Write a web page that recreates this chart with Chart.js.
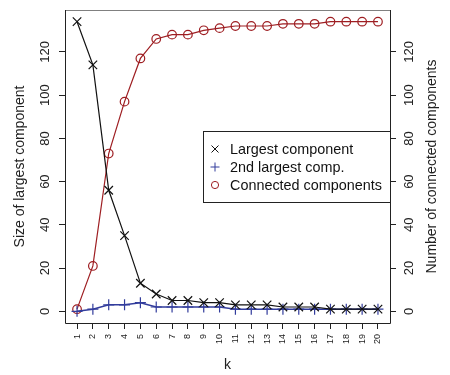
<!DOCTYPE html>
<html>
<head>
<meta charset="utf-8">
<script src="https://cdn.jsdelivr.net/npm/chart.js@4.4.1/dist/chart.umd.min.js"></script>
<style>
  html, body { margin: 0; padding: 0; background: #fff; }
  #wrap { width: 450px; height: 375px; }
</style>
</head>
<body>
<div id="wrap"><canvas id="chart" width="450" height="375"></canvas></div>
<script>
// k values
const kValues = [1, 2, 3, 4, 5, 6, 7, 8, 9, 10, 11, 12, 13, 14, 15, 16, 17, 18, 19, 20];
// size of largest component
const largest = [134, 114, 56, 35, 13, 8, 5, 5, 4, 4, 3, 3, 3, 2, 2, 2, 1, 1, 1, 1];
// size of 2nd largest component
const secondLargest = [0, 1, 3, 3, 4, 2, 2, 2, 2, 2, 1, 1, 1, 1, 1, 1, 1, 1, 1, 1];
// number of connected components (right axis)
const connected = [1, 21, 73, 97, 117, 126, 128, 128, 130, 131, 132, 132, 132, 133, 133, 133, 134, 134, 134, 134];
// tick labels
const yTicks = [0, 20, 40, 60, 80, 100, 120];

const FONT = 'Liberation Sans, Arial, sans-serif';
const BLUE = '#323c9c';
const RED = '#9e1e22';

function toXY(arr) {
    return arr.map((v, i) => ({ x: kValues[i], y: v }));
}

// 畫外框、旋轉的y軸刻度文字、軸標題和圖例
const decorPlugin = {
    id: 'decor',
    afterDraw(chart) {
        const ctx = chart.ctx;
        const a = chart.chartArea;
        const yl = chart.scales.y;
        const yr = chart.scales.y2;
        const xs = chart.scales.x;
        ctx.save();

        // 外框
        ctx.lineWidth = 1;
        ctx.strokeStyle = '#808080';
        ctx.beginPath();
        ctx.moveTo(a.left, a.top + 0.5);
        ctx.lineTo(a.right, a.top + 0.5);
        ctx.stroke();
        ctx.strokeStyle = '#222';
        ctx.beginPath();
        ctx.moveTo(a.left + 0.5, a.top);
        ctx.lineTo(a.left + 0.5, a.bottom + 0.5);
        ctx.lineTo(a.right + 0.5, a.bottom + 0.5);
        ctx.lineTo(a.right + 0.5, a.top);
        ctx.stroke();

        // y軸刻度文字 (旋轉90度)
        ctx.fillStyle = '#222';
        ctx.font = '13px ' + FONT;
        ctx.textAlign = 'center';
        ctx.textBaseline = 'middle';
        yTicks.forEach(v => {
            ctx.save();
            ctx.translate(a.left - 20, yl.getPixelForValue(v));
            ctx.rotate(-Math.PI / 2);
            ctx.fillText(String(v), 0, 0);
            ctx.restore();
            ctx.save();
            ctx.translate(a.right + 19, yr.getPixelForValue(v));
            ctx.rotate(-Math.PI / 2);
            ctx.fillText(String(v), 0, 0);
            ctx.restore();
        });

        // x軸刻度文字 (旋轉90度)
        ctx.font = '9px ' + FONT;
        ctx.textAlign = 'right';
        kValues.forEach(k => {
            ctx.save();
            ctx.translate(xs.getPixelForValue(k), a.bottom + 11);
            ctx.rotate(-Math.PI / 2);
            ctx.fillText(String(k), 0, 0);
            ctx.restore();
        });

        // 軸標題
        ctx.font = '14px ' + FONT;
        ctx.textAlign = 'center';
        ctx.fillText('k', (a.left + a.right) / 2, 365);
        ctx.save();
        ctx.translate(20, (a.top + a.bottom) / 2);
        ctx.rotate(-Math.PI / 2);
        ctx.fillText('Size of largest component', 0, 0);
        ctx.restore();
        ctx.save();
        ctx.translate(432, (a.top + a.bottom) / 2);
        ctx.rotate(-Math.PI / 2);
        ctx.fillText('Number of connected components', 0, 0);
        ctx.restore();

        // 圖例
        const lx = 203, ly = 131, lw = a.right - 203, lh = 71;
        ctx.fillStyle = '#fff';
        ctx.fillRect(lx, ly, lw, lh);
        ctx.strokeStyle = '#222';
        ctx.strokeRect(lx + 0.5, ly + 0.5, lw, lh);
        ctx.font = '14.4px ' + FONT;
        ctx.textAlign = 'left';
        chart.data.datasets.forEach((ds, i) => {
            const yy = 149 + i * 18;
            ctx.strokeStyle = ds.borderColor;
            ctx.lineWidth = 1;
            ctx.beginPath();
            if (ds.pointStyle === 'crossRot') {
                ctx.moveTo(211.5, yy - 3.5); ctx.lineTo(218.5, yy + 3.5);
                ctx.moveTo(211.5, yy + 3.5); ctx.lineTo(218.5, yy - 3.5);
            } else if (ds.pointStyle === 'cross') {
                ctx.moveTo(210.5, yy); ctx.lineTo(219.5, yy);
                ctx.moveTo(215, yy - 4.5); ctx.lineTo(215, yy + 4.5);
            } else {
                ctx.arc(215, yy, 3.6, 0, Math.PI * 2);
            }
            ctx.stroke();
            ctx.fillStyle = '#111';
            ctx.fillText(ds.label, 230, yy + 1);
        });

        ctx.restore();
    }
};

new Chart(document.getElementById('chart').getContext('2d'), {
    type: 'line',
    data: {
        datasets: [{
            label: 'Largest component',
            data: toXY(largest),
            yAxisID: 'y',
            borderColor: '#111',
            backgroundColor: 'transparent',
            borderWidth: 1.2,
            pointStyle: 'crossRot',
            pointRadius: 6,
            pointBorderWidth: 1.2,
            tension: 0
        }, {
            label: '2nd largest comp.',
            data: toXY(secondLargest),
            yAxisID: 'y',
            borderColor: BLUE,
            backgroundColor: 'transparent',
            borderWidth: 1.5,
            pointStyle: 'cross',
            pointRadius: 5.5,
            pointBorderWidth: 1.2,
            tension: 0
        }, {
            label: 'Connected components',
            data: toXY(connected),
            yAxisID: 'y2',
            borderColor: RED,
            backgroundColor: 'transparent',
            borderWidth: 1.2,
            pointStyle: 'circle',
            pointRadius: 4.3,
            pointBorderWidth: 1.2,
            pointBackgroundColor: 'transparent',
            tension: 0
        }]
    },
    options: {
        responsive: false,
        animation: false,
        layout: { padding: { top: 10, left: 0, right: 0, bottom: 0 } },
        plugins: {
            legend: { display: false },
            tooltip: { enabled: false }
        },
        scales: {
            x: {
                type: 'linear',
                min: 0.24,
                max: 20.76,
                afterBuildTicks: s => { s.ticks = kValues.map(v => ({ value: v })); },
                afterFit: s => { s.height = 52; },
                ticks: { display: false },
                border: { display: false },
                grid: { drawOnChartArea: false, drawTicks: true, tickLength: 6, color: '#222' }
            },
            y: {
                position: 'left',
                min: -5.4,
                max: 139.4,
                afterBuildTicks: s => { s.ticks = yTicks.map(v => ({ value: v })); },
                afterFit: s => { s.width = 65; },
                ticks: { display: false },
                border: { display: false },
                grid: { drawOnChartArea: false, drawTicks: true, tickLength: 6, color: '#222' }
            },
            y2: {
                position: 'right',
                min: -5.4,
                max: 139.4,
                afterBuildTicks: s => { s.ticks = yTicks.map(v => ({ value: v })); },
                afterFit: s => { s.width = 60; },
                ticks: { display: false },
                border: { display: false },
                grid: { drawOnChartArea: false, drawTicks: true, tickLength: 6, color: '#222' }
            }
        }
    },
    plugins: [decorPlugin]
});
</script>
</body>
</html>
